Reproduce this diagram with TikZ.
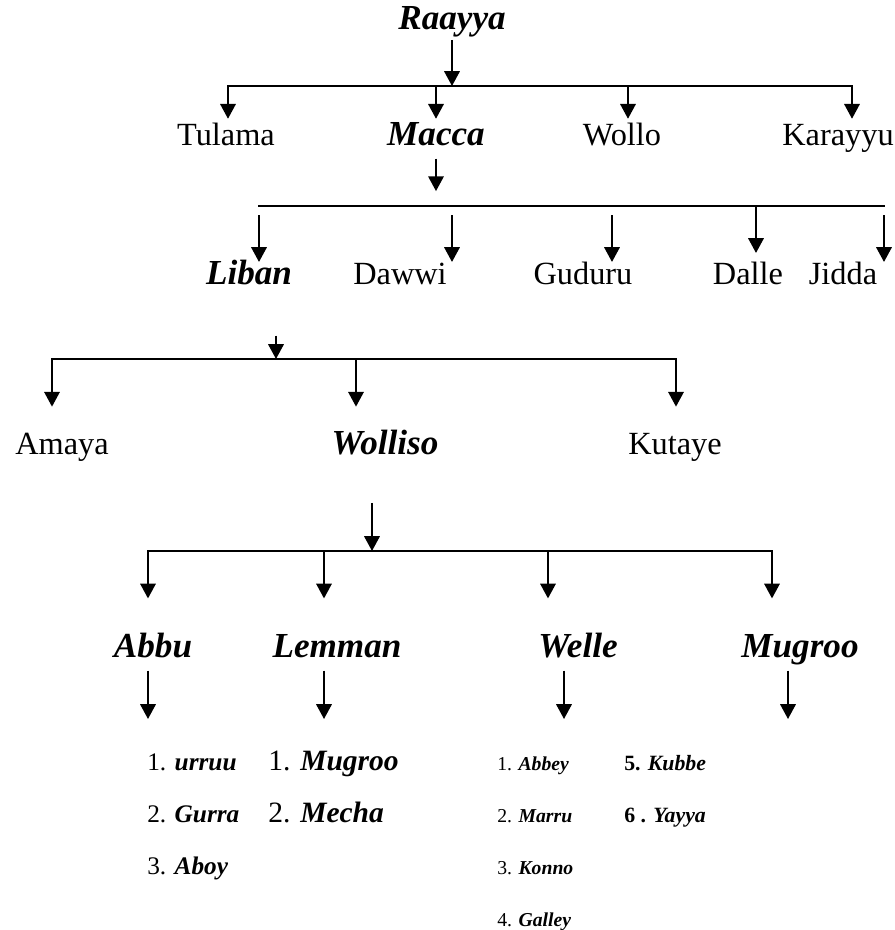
\documentclass[tikz,border=0pt]{standalone}
\usepackage{fontspec}
\setmainfont{Liberation Serif}
\usepackage{tikz}
\usetikzlibrary{arrows.meta, positioning}
\newcommand{\bname}[1]{\textbf{\textit{#1}}}

\begin{document}
\begin{tikzpicture}[
    x=0.025cm, y=-0.025cm,
    node distance=1.3cm,
    clan/.style={inner sep=0pt, text height=16pt, text depth=5pt,
                 font=\fontsize{23}{27}\selectfont},
    keyclan/.style={clan, font=\fontsize{25}{29}\selectfont\bfseries\itshape},
    sub/.style={inner sep=0pt, anchor=west, text height=13pt, text depth=4pt,
                font=\fontsize{18}{22}\selectfont},
    sublarge/.style={sub, font=\fontsize{21}{25}\selectfont},
    subsmall/.style={sub, font=\fontsize{14}{17}\selectfont},
    arr/.style={-{Triangle[length=10.5pt, width=11pt]}, line width=1.3pt},
    bar/.style={line width=1.3pt, line cap=rect},
]
    \useasboundingbox (0,0) rectangle (895,930);

    \node[keyclan] (raayya) at (452,22) {Raayya};
    \coordinate (j1) at (452,86);
    \coordinate (c1a) at (228,86);
    \coordinate (c1b) at (436,86);
    \coordinate (c1c) at (628,86);
    \coordinate (c1d) at (852,86);
    \node[clan] (tulama) at (226,138) {Tulama};
    \node[keyclan] (macca) at (436,138) {Macca};
    \node[clan] (wollo) at (622,138) {Wollo};
    \node[clan] (karayyu) at (838,138) {Karayyu};

    \coordinate (j2) at (436,206);
    \coordinate (c2a) at (259,206);
    \coordinate (c2b) at (452,206);
    \coordinate (c2c) at (612,206);
    \coordinate (c2d) at (756,206);
    \coordinate (c2e) at (884,206);
    \node[keyclan] (liban) at (249,277) {Liban};
    \node[clan] (dawwi) at (400,277) {Dawwi};
    \node[clan] (guduru) at (583,277) {Guduru};
    \node[clan] (dalle) at (748,277) {Dalle};
    \node[clan] (jidda) at (843,277) {Jidda};

    \coordinate (j3) at (276,359);
    \coordinate (c3a) at (52,359);
    \coordinate (c3b) at (356,359);
    \coordinate (c3c) at (676,359);
    \node[clan] (amaya) at (62,447) {Amaya};
    \node[keyclan] (wolliso) at (385,447) {Wolliso};
    \node[clan] (kutaye) at (675,447) {Kutaye};

    \coordinate (j4) at (372,551);
    \coordinate (c4a) at (148,551);
    \coordinate (c4b) at (324,551);
    \coordinate (c4c) at (548,551);
    \coordinate (c4d) at (772,551);
    \node[keyclan] (abbu) at (153,650) {Abbu};
    \node[keyclan] (lemman) at (337,650) {Lemman};
    \node[keyclan] (welle) at (578,650) {Welle};
    \node[keyclan] (mugroo) at (800,650) {Mugroo};

    \coordinate (e5a) at (148,719);
    \coordinate (e5b) at (324,719);
    \coordinate (e5c) at (564,719);
    \coordinate (e5d) at (788,719);

    \node[sub] (u1) at (147,764) {1. \bname{urruu}};
    \node[sub, below=of u1.west, anchor=west] (u2) {2. \bname{Gurra}};
    \node[sub, below=of u2.west, anchor=west] (u3) {3. \bname{Aboy}};
    \node[sublarge] (m1) at (268,764) {1. \bname{Mugroo}};
    \node[sublarge, below=of m1.west, anchor=west] (m2) {2. \bname{Mecha}};
    \node[subsmall] (w1) at (497,764) {1. \bname{Abbey}};
    \node[subsmall, below=of w1.west, anchor=west] (w2) {2. \bname{Marru}};
    \node[subsmall, below=of w2.west, anchor=west] (w3) {3. \bname{Konno}};
    \node[subsmall, below=of w3.west, anchor=west] (w4) {4. \bname{Galley}};
    \node[subsmall, font=\fontsize{15.5}{18}\selectfont] (k1) at (624,764) {\textbf{5. \textit{Kubbe}}};
    \node[subsmall, font=\fontsize{15.5}{18}\selectfont, below=of k1.west, anchor=west] (k2) {\textbf{6 . \textit{Yayya}}};

    \draw[arr, shorten <=2pt] (raayya) -- (j1);
    \draw[bar] (c1a) -- (c1d);
    \foreach \c/\n in {c1a/tulama, c1b/macca, c1c/wollo, c1d/karayyu}
        \draw[arr, shorten >=3pt] (\c) -- (\c |- \n.north);

    \draw[arr, shorten <=4pt, shorten >=10.6pt] (macca) -- (j2);
    \draw[bar] (c2a) -- (c2e);
    \foreach \c/\n in {c2a/liban, c2b/dawwi, c2c/guduru, c2e/jidda}
        \draw[arr, shorten <=6.4pt] (\c) -- (\c |- \n.north);
    \draw[arr, shorten >=6.4pt] (c2d) -- (c2d |- dalle.north);

    \draw[arr, shorten <=31pt] (liban.south -| j3) -- (j3);
    \draw[bar] (c3a) -- (c3c);
    \foreach \c/\n in {c3a/amaya, c3b/wolliso, c3c/kutaye}
        \draw[arr, shorten >=18pt] (\c) -- (\c |- \n.north);

    \draw[arr, shorten <=29pt] (wolliso.south -| j4) -- (j4);
    \draw[bar] (c4a) -- (c4d);
    \foreach \c/\n in {c4a/abbu, c4b/lemman, c4c/welle, c4d/mugroo}
        \draw[arr, shorten >=26pt] (\c) -- (\c |- \n.north);

    \foreach \e/\n in {e5a/abbu, e5b/lemman, e5c/welle, e5d/mugroo}
        \draw[arr, shorten <=4pt] (\n.south -| \e) -- (\e);
\end{tikzpicture}
\end{document}
